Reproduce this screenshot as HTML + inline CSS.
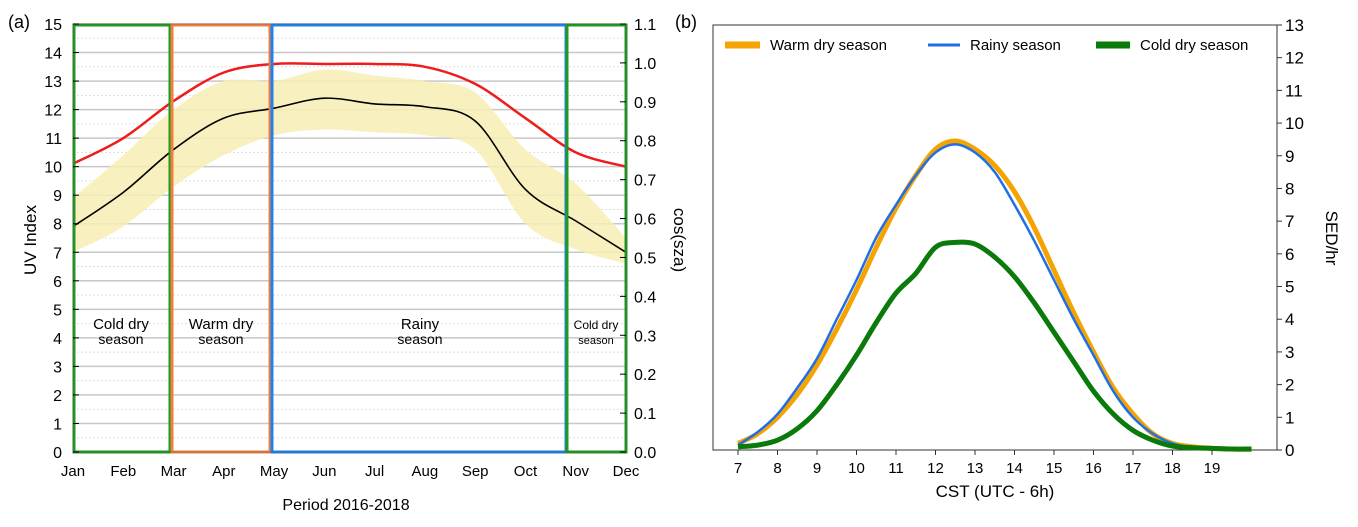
<!DOCTYPE html>
<html><head><meta charset="utf-8"><style>
body{margin:0;background:#fff;width:1358px;height:522px;overflow:hidden}
svg{font-family:"Liberation Sans",sans-serif}
</style></head><body>
<svg id="s" width="1358" height="522" xmlns="http://www.w3.org/2000/svg"></svg>
<script>
// Panel (a) data
const months=['Jan','Feb','Mar','Apr','May','Jun','Jul','Aug','Sep','Oct','Nov','Dec'];
const redLine=[10.1,11.0,12.3,13.3,13.6,13.6,13.6,13.5,12.9,11.7,10.5,10.0];
const blackLine=[7.9,9.1,10.6,11.7,12.05,12.4,12.2,12.1,11.6,9.2,8.1,7.0];
const bandUpper=[8.9,10.4,12.0,13.0,13.0,13.4,13.2,13.0,12.6,10.6,9.4,7.5];
const bandLower=[7.0,7.9,9.3,10.4,11.1,11.3,11.2,11.1,10.6,8.0,7.1,6.6];
const uvTicks=[0,1,2,3,4,5,6,7,8,9,10,11,12,13,14,15];
const cosTicks=['0.0','0.1','0.2','0.3','0.4','0.5','0.6','0.7','0.8','0.9','1.0','1.1'];
// Panel (b) data
const hours=[7,7.5,8,8.5,9,9.5,10,10.5,11,11.5,12,12.5,13,13.5,14,14.5,15,15.5,16,16.5,17,17.5,18,18.5,19,19.5,20];
const warmDry=[0.2,0.5,1.0,1.7,2.6,3.7,4.9,6.2,7.4,8.4,9.2,9.45,9.2,8.7,7.9,6.8,5.5,4.2,3.0,1.9,1.1,0.5,0.2,0.1,0.05,0.03,0.02];
const rainy=[0.15,0.55,1.1,1.9,2.8,4.0,5.2,6.5,7.5,8.4,9.1,9.35,9.1,8.5,7.5,6.4,5.2,4.0,2.9,1.8,1.0,0.5,0.2,0.08,0.05,0.03,0.02];
const coldDry=[0.1,0.15,0.3,0.65,1.2,2.0,2.9,3.9,4.8,5.4,6.2,6.35,6.3,5.9,5.3,4.5,3.6,2.7,1.8,1.1,0.6,0.3,0.12,0.07,0.05,0.03,0.03];
const sedTicks=[0,1,2,3,4,5,6,7,8,9,10,11,12,13];
const hourTicks=[7,8,9,10,11,12,13,14,15,16,17,18,19];

const NS='http://www.w3.org/2000/svg', S=document.getElementById('s');
function mk(t,a,p){const e=document.createElementNS(NS,t);for(const k in a)e.setAttribute(k,a[k]);(p||S).appendChild(e);return e;}
function tx(x,y,str,a){const e=mk('text',Object.assign({x:x,y:y},a||{}));e.textContent=str;return e;}
function smooth(pts){let d='M'+pts[0][0]+','+pts[0][1];for(let i=0;i<pts.length-1;i++){const p0=pts[Math.max(i-1,0)],p1=pts[i],p2=pts[i+1],p3=pts[Math.min(i+2,pts.length-1)];
d+=' C'+(p1[0]+(p2[0]-p0[0])/6)+','+(p1[1]+(p2[1]-p0[1])/6)+' '+(p2[0]-(p3[0]-p1[0])/6)+','+(p2[1]-(p3[1]-p1[1])/6)+' '+p2[0]+','+p2[1];}return d;}

// ---- Panel a ----
const ax0=73,ax1=626,ay0=452,ay1=24;
const xa=i=>ax0+i*(ax1-ax0)/11, ya=v=>ay0-v*(ay0-ay1)/15, yc=v=>ay0-v*(ay0-ay1)/1.1;
let e;
e=tx(8,28,'(a)',{'font-size':18});
for(let v=0;v<=15;v+=0.5){
 e=mk('line',{x1:ax0,x2:ax1,y1:ya(v),y2:ya(v),stroke:v%1?'#ddd':'#c8c8c8','stroke-width':v%1?1:1.5,'stroke-dasharray':v%1?'2,2':''});
 
}
const up=bandUpper.map((v,i)=>[xa(i),ya(v)]), lo=bandLower.map((v,i)=>[xa(i),ya(v)]).reverse();
e=mk('path',{d:smooth(up)+' L'+lo[0][0]+','+lo[0][1]+smooth(lo).replace('M',' L'),fill:'#f7eeb4',opacity:0.85});

e=mk('path',{d:smooth(redLine.map((v,i)=>[xa(i),ya(v)])),fill:'none',stroke:'#ee1c1c','stroke-width':2.5});

e=mk('path',{d:smooth(blackLine.map((v,i)=>[xa(i),ya(v)])),fill:'none',stroke:'#000','stroke-width':1.6});

const boxes=[[ax0+1,170,'#1f9a1f','cold-dry-box'],[172,270,'#f08040','warm-dry-box'],[272,566,'#2080f0','rainy-box'],[567,ax1,'#1f9a1f','cold-dry-box-2']];
boxes.forEach(b=>{e=mk('rect',{x:b[0],y:ay1+1,width:b[1]-b[0],height:ay0-ay1-1,fill:'none',stroke:b[2],'stroke-width':3});
 });
e=mk('rect',{x:ax0,y:ay1,width:ax1-ax0,height:ay0-ay1,fill:'none',stroke:'#555','stroke-width':0.5});

[[121,'Cold dry',15],[221,'Warm dry',15],[420,'Rainy',15],[596,'Cold dry',12]].forEach((s,i)=>{
 e=tx(s[0],329,s[1],{'font-size':s[2],'text-anchor':'middle'});
 e=tx(s[0],344,'season',{'font-size':s[2]-1,'text-anchor':'middle'});
});
uvTicks.forEach(v=>{e=tx(62,ya(v)+6,String(v),{'font-size':16,'text-anchor':'end'});
 mk('line',{x1:ax0,x2:ax0+6,y1:ya(v),y2:ya(v),stroke:'#000'});});
cosTicks.forEach((v,i)=>{e=tx(634,yc(i*0.1)+6,v,{'font-size':16});
 mk('line',{x1:ax1-6,x2:ax1,y1:yc(i*0.1),y2:yc(i*0.1),stroke:'#000'});});
months.forEach((m,i)=>{e=tx(xa(i),476,m,{'font-size':15,'text-anchor':'middle'});});
e=tx(346,510,'Period 2016-2018',{'font-size':16,'text-anchor':'middle'});
e=tx(0,0,'UV Index',{'font-size':17,'text-anchor':'middle',transform:'translate(36,240) rotate(-90)'});
e=tx(0,0,'cos(sza)',{'font-size':17,'text-anchor':'middle',transform:'translate(674,240) rotate(90)'});

// ---- Panel b ----
const bx0=713,bx1=1277,by0=450,by1=25;
const xb=h=>738+(h-7)*39.5, yb=v=>by0-v*(by0-by1)/13;
e=tx(675,28,'(b)',{'font-size':18});
e=mk('rect',{x:bx0,y:by1,width:bx1-bx0,height:by0-by1,fill:'none',stroke:'#333','stroke-width':1});

const series=[[warmDry,'#f5a300',5,'warm-dry-line'],[rainy,'#1f6fe8',2.5,'rainy-line'],[coldDry,'#0a7a0a',5,'cold-dry-line']];
series.forEach(s=>{e=mk('path',{d:smooth(s[0].map((v,i)=>[xb(hours[i]),yb(v)])),fill:'none',stroke:s[1],'stroke-width':s[2]});
 });
sedTicks.forEach(v=>{mk('line',{x1:bx1,x2:bx1+5,y1:yb(v),y2:yb(v),stroke:'#333'});
 e=tx(1285,yb(v)+6,String(v),{'font-size':17});});
hourTicks.forEach(h=>{mk('line',{x1:xb(h),x2:xb(h),y1:by0,y2:by0+5,stroke:'#333'});
 e=tx(xb(h),473,String(h),{'font-size':15,'text-anchor':'middle'});});
e=tx(995,497,'CST (UTC - 6h)',{'font-size':17,'text-anchor':'middle'});
e=tx(0,0,'SED/hr',{'font-size':17,'text-anchor':'middle',transform:'translate(1326,238) rotate(90)'});
[[725,760,'#f5a300',7,770,'Warm dry season'],[928,960,'#1f6fe8',3,970,'Rainy season'],[1096,1130,'#0a7a0a',7,1140,'Cold dry season']].forEach(l=>{
 e=mk('line',{x1:l[0],x2:l[1],y1:45,y2:45,stroke:l[2],'stroke-width':l[3]});
 e=tx(l[4],50,l[5],{'font-size':15});});
</script>
</body></html>
